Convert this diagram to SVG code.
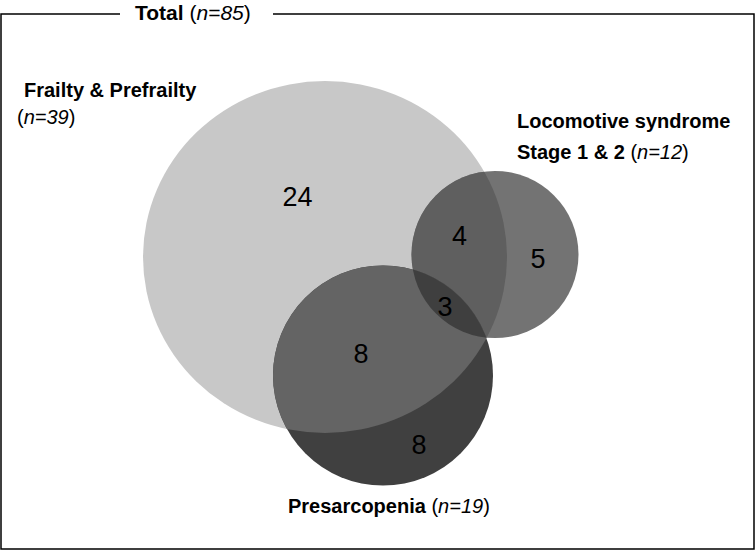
<svg xmlns="http://www.w3.org/2000/svg" width="756" height="551" viewBox="0 0 756 551">
<style>
text{font-family:"Liberation Sans",Arial,sans-serif;fill:#000}
.lbl{font-size:20px}
.b{font-weight:bold}
.it{font-style:italic}
.num{font-size:27px;text-anchor:middle}
.frame{fill:none;stroke:#000;stroke-width:1.5}
</style>
<defs>
<clipPath id="clipBig"><ellipse cx="325" cy="257" rx="182" ry="176"/></clipPath>
<clipPath id="clipLoco"><circle cx="495" cy="254.5" r="83.5"/></clipPath>
</defs>
<rect width="756" height="551" fill="#fff"/>
<path class="frame" d="M120,14 H1 V549 H754 V14 H273"/>
<text x="135" y="19.5" style="font-size:21px"><tspan class="b">Total</tspan> (<tspan class="it">n=85</tspan>)</text>

<g id="frailty">
<ellipse cx="325" cy="257" rx="182" ry="176" fill="#c8c8c8"/>
<text class="lbl b" x="24" y="97">Frailty &amp; Prefrailty</text>
<text class="lbl" x="17" y="124">(<tspan class="it">n=39</tspan>)</text>
</g>
<g id="locomotive">
<circle cx="495" cy="254.5" r="83.5" fill="#737373"/>
<circle cx="495" cy="254.5" r="83.5" fill="#5f5f5f" clip-path="url(#clipBig)"/>
<text class="lbl b" x="517" y="128">Locomotive syndrome</text>
<text class="lbl" x="517" y="159"><tspan class="b">Stage 1 &amp; 2</tspan> (<tspan class="it">n=12</tspan>)</text>
</g>
<g id="presarcopenia">
<circle cx="383" cy="375.5" r="110" fill="#404040"/>
<circle cx="383" cy="375.5" r="110" fill="#646464" clip-path="url(#clipBig)"/>
<g clip-path="url(#clipBig)"><circle cx="383" cy="375.5" r="110" fill="#3f3f3f" clip-path="url(#clipLoco)"/></g>
<text class="lbl" x="288" y="513"><tspan class="b">Presarcopenia</tspan> (<tspan class="it">n=19</tspan>)</text>
</g>
<g id="counts">
<text class="num" x="297.5" y="206">24</text>
<text class="num" x="459.5" y="245">4</text>
<text class="num" x="538" y="268">5</text>
<text class="num" x="445" y="316">3</text>
<text class="num" x="361" y="363">8</text>
<text class="num" x="419" y="454">8</text>
</g>
<g id="connectors"/>
</svg>
